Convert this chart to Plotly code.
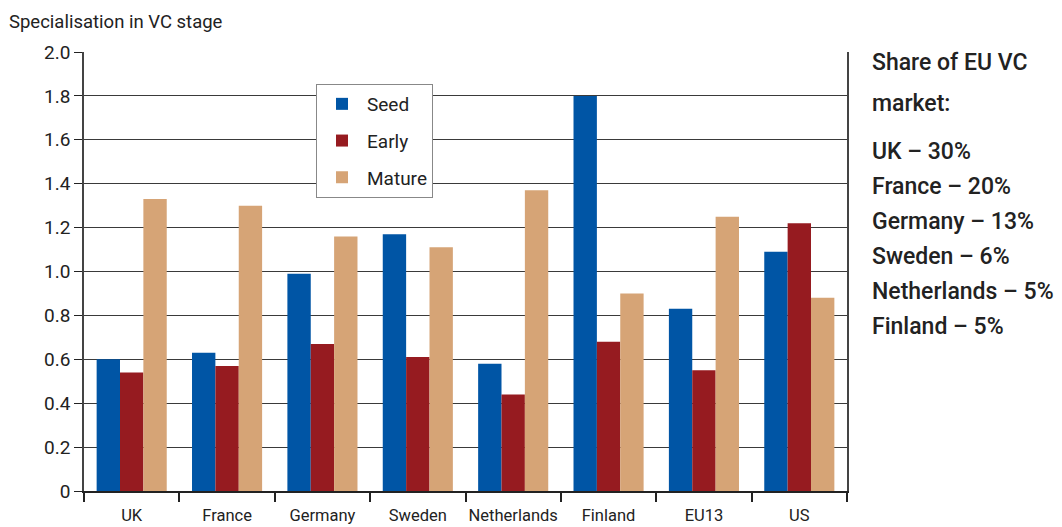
import plotly.graph_objects as go

categories = ["UK", "France", "Germany", "Sweden", "Netherlands", "Finland", "EU13", "US"]
seed = [0.60, 0.63, 0.99, 1.17, 0.58, 1.80, 0.83, 1.09]
early = [0.54, 0.57, 0.67, 0.61, 0.44, 0.68, 0.55, 1.22]
mature = [1.33, 1.30, 1.16, 1.11, 1.37, 0.90, 1.25, 0.88]
series_names = ["Seed", "Early", "Mature"]
series_colors = ["#0055A5", "#961B20", "#D6A476"]
y_ticks = [0, 0.2, 0.4, 0.6, 0.8, 1.0, 1.2, 1.4, 1.6, 1.8, 2.0]
y_tick_text = ["0", "0.2", "0.4", "0.6", "0.8", "1.0", "1.2", "1.4", "1.6", "1.8", "2.0"]
share_title = ["Share of EU VC", "market:"]
share_lines = ["UK – 30%", "France – 20%", "Germany – 13%", "Sweden – 6%", "Netherlands – 5%", "Finland – 5%"]

FONT = "Roboto"
L, R, T, B = 84, 847, 52, 491
PW, PH = R - L, B - T

fig = go.Figure()
for name, vals, col in zip(series_names, [seed, early, mature], series_colors):
    fig.add_trace(go.Bar(x=categories, y=vals, name=name, legendgroup=name,
                         marker=dict(color=col, line=dict(width=0))))

fig.update_layout(
    width=1062, height=527,
    margin=dict(l=L, r=1062 - R, t=T, b=527 - B, autoexpand=False),
    paper_bgcolor="white", plot_bgcolor="white",
    barmode="group", bargap=0.265, bargroupgap=0,
    font=dict(family=FONT, color="#222", size=16),
    showlegend=True,
    legend=dict(x=(316 - L) / PW, y=(B - 84) / PH, xanchor="left", yanchor="top",
                bgcolor="white", bordercolor="#888", borderwidth=1,
                font=dict(size=19, family=FONT, color="#222"),
                tracegroupgap=9, itemwidth=40),
    xaxis=dict(showline=True, linecolor="#222", linewidth=2, ticks="outside",
               tickson="boundaries", ticklen=9, tickcolor="#222", tickwidth=1.5,
               showgrid=False, tickfont=dict(size=16.5, family=FONT, color="#222"),
               tickangle=0, ticklabelstandoff=8, automargin=False, range=[-0.5, 7.5]),
    yaxis=dict(range=[0, 2.0], tickvals=y_ticks, ticktext=y_tick_text,
               showline=True, linecolor="#444", linewidth=1.5, mirror=True,
               ticks="outside", ticklen=8, tickcolor="#222",
               showgrid=True, gridcolor="#3a3a3a", gridwidth=1.4,
               tickfont=dict(size=19, family=FONT, color="#222"), zeroline=False),
)

fig.add_annotation(text="Specialisation in VC stage", xref="paper", yref="paper",
                   x=-(L - 7) / PW, y=1 + 30 / PH, xanchor="left", yanchor="middle",
                   showarrow=False, font=dict(size=18.5, family=FONT, color="#222"))

px_x = (870 - L) / PW
for i, t in enumerate(share_title):
    ypix = 63 + i * 40
    fig.add_annotation(text=t, xref="paper", yref="paper", x=px_x, y=(B - ypix) / PH,
                       xanchor="left", yanchor="middle", showarrow=False,
                       font=dict(size=23, family=FONT, color="#222", weight=500))
for i, t in enumerate(share_lines):
    ypix = 151 + i * 35.2
    fig.add_annotation(text=t, xref="paper", yref="paper", x=px_x, y=(B - ypix) / PH,
                       xanchor="left", yanchor="middle", showarrow=False,
                       font=dict(size=23, family=FONT, color="#222", weight=500))

fig.write_html("out.html", config={"displayModeBar": False},
               post_script="document.body.style.margin='0';")
